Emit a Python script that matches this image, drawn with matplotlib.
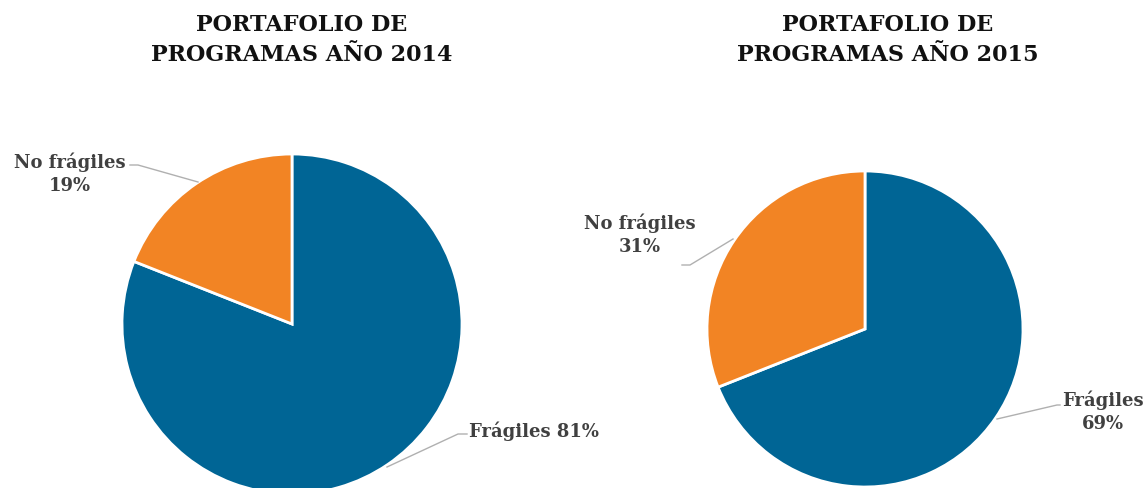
import matplotlib.pyplot as plt

# Programme portfolio split per year (percent)
categories = ["Frágiles", "No frágiles"]
share_2014 = [81, 19]
share_2015 = [69, 31]
titles = ["PORTAFOLIO DE\nPROGRAMAS AÑO 2014", "PORTAFOLIO DE\nPROGRAMAS AÑO 2015"]

colors = ["#006595", "#F28424"]
text_color = "#404040"
W, H = 1147, 489

plt.rcParams['font.family'] = ['DejaVu Serif']

fig = plt.figure(figsize=(W / 100, H / 100), dpi=100)
ax = fig.add_axes([0, 0, 1, 1])


def py(y):
    # pixel rows counted from the top
    return H - y


pies = [
    (share_2014, (292, py(325)), 170),
    (share_2015, (865, py(330)), 158),
]
for values, center, radius in pies:
    ax.pie(values, colors=colors, startangle=90, counterclock=False,
           center=center, radius=radius, frame=True,
           wedgeprops=dict(edgecolor="white", linewidth=2))
ax.set_xlim(0, W)
ax.set_ylim(0, H)
ax.set_aspect('equal')
ax.axis('off')

# titles
for title, x in zip(titles, [302, 888]):
    ax.text(x, py(40), title, ha="center", va="center", fontsize=16,
            fontweight="bold", color="#111111", linespacing=1.45)

# data labels with leader lines
label_kw = dict(fontsize=13, fontweight="bold", color=text_color,
                linespacing=1.35)
line_kw = dict(color="#b0b0b0", linewidth=1)

ax.text(70, py(174), f"{categories[1]}\n{share_2014[1]}%", ha="center",
        va="center", **label_kw)
ax.plot([130, 138, 198], [py(166), py(166), py(183)], **line_kw)

ax.text(469, py(431), f"{categories[0]} {share_2014[0]}%", ha="left",
        va="center", **label_kw)
ax.plot([467, 458, 387], [py(435), py(435), py(468)], **line_kw)

ax.text(640, py(235), f"{categories[1]}\n{share_2015[1]}%", ha="center",
        va="center", **label_kw)
ax.plot([682, 690, 733], [py(266), py(266), py(240)], **line_kw)

ax.text(1103, py(412), f"{categories[0]}\n{share_2015[0]}%", ha="center",
        va="center", **label_kw)
ax.plot([1060, 1057, 997], [py(406), py(406), py(420)], **line_kw)

fig.savefig("out.png", dpi=100)
